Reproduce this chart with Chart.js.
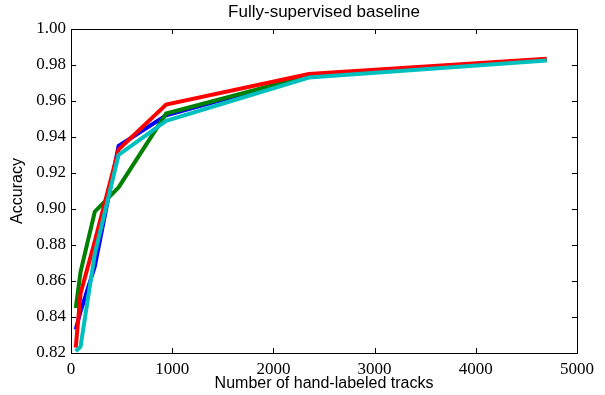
<!DOCTYPE html>
<html>
<head>
<meta charset="utf-8">
<script src="https://cdn.jsdelivr.net/npm/chart.js@4.4.1/dist/chart.umd.min.js"></script>
<style>
  body { margin: 0; background: #fff; }
  #wrap { width: 605px; height: 395px; }
</style>
</head>
<body>
<div id="wrap"><canvas id="myChart" width="605" height="395"></canvas></div>
<script>
var xValues = [47, 94, 235, 470, 940, 2350, 4700];
var blueValues = [0.833, 0.843, 0.868, 0.935, 0.952, 0.974, 0.983];
var greenValues = [0.845, 0.865, 0.8985, 0.912, 0.953, 0.974, 0.983];
var redValues = [0.823, 0.853, 0.882, 0.933, 0.958, 0.975, 0.9835];
var cyanValues = [0.821, 0.8235, 0.875, 0.930, 0.949, 0.973, 0.9825];
var xTicks = [0, 1000, 2000, 3000, 4000, 5000];
var yTicks = [0.82, 0.84, 0.86, 0.88, 0.90, 0.92, 0.94, 0.96, 0.98, 1.00];

function pts(ys) {
  return xValues.map(function (x, i) { return { x: x, y: ys[i] }; });
}

function line(label, color, ys, order) {
  return {
    label: label,
    data: pts(ys),
    borderColor: color,
    backgroundColor: color,
    borderWidth: 4,
    pointRadius: 0,
    tension: 0,
    fill: false,
    order: order,
  };
}

// matplotlib-like frame: box, inward ticks on all sides, title over plot
var frame = {
  id: "frame",
  afterDraw: function (chart) {
    var ctx = chart.ctx;
    var a = chart.chartArea;
    var xs = chart.scales.x;
    var ys = chart.scales.y;
    ctx.save();
    ctx.strokeStyle = "#000";
    ctx.lineWidth = 1;
    ctx.strokeRect(Math.round(a.left) + 0.5, Math.round(a.top) + 0.5,
      Math.round(a.right - a.left), Math.round(a.bottom - a.top));
    ctx.beginPath();
    xTicks.forEach(function (v) {
      var px = Math.round(xs.getPixelForValue(v)) + 0.5;
      ctx.moveTo(px, a.bottom); ctx.lineTo(px, a.bottom - 5);
      ctx.moveTo(px, a.top); ctx.lineTo(px, a.top + 5);
    });
    yTicks.forEach(function (v) {
      var py = Math.round(ys.getPixelForValue(v)) + 0.5;
      ctx.moveTo(a.left, py); ctx.lineTo(a.left + 5, py);
      ctx.moveTo(a.right, py); ctx.lineTo(a.right - 5, py);
    });
    ctx.stroke();
    ctx.fillStyle = "#000";
    ctx.font = "17px 'Liberation Sans', Arial, sans-serif";
    ctx.textAlign = "center";
    ctx.textBaseline = "bottom";
    ctx.fillText("Fully-supervised baseline", (a.left + a.right) / 2, a.top - 8);
    ctx.restore();
  },
};

new Chart("myChart", {
  type: "line",
  data: {
    datasets: [
      line("blue", "#0000ff", blueValues, 4),
      line("green", "#008000", greenValues, 3),
      line("red", "#ff0000", redValues, 2),
      line("cyan", "#00bfbf", cyanValues, 1),
    ],
  },
  options: {
    responsive: false,
    animation: false,
    layout: { padding: { top: 29, right: 28, left: 8, bottom: 0 } },
    plugins: {
      legend: { display: false },
      tooltip: { enabled: false },
    },
    scales: {
      x: {
        type: "linear",
        min: 0,
        max: 5000,
        grid: { display: false, drawTicks: false },
        border: { display: false },
        afterFit: function (s) { s.height = 42; },
        afterBuildTicks: function (s) {
          s.ticks = xTicks.map(function (v) { return { value: v }; });
        },
        ticks: {
          color: "#000",
          padding: 6,
          maxRotation: 0,
          font: { family: "'Liberation Serif', serif", size: 17 },
          callback: function (v) { return String(v); },
        },
        title: {
          display: true,
          text: "Number of hand-labeled tracks",
          color: "#000",
          padding: { top: 0, bottom: 2 },
          font: { family: "'Liberation Sans', Arial, sans-serif", size: 16 },
        },
      },
      y: {
        type: "linear",
        min: 0.82,
        max: 1.0,
        grid: { display: false, drawTicks: false },
        border: { display: false },
        afterFit: function (s) { s.width = 63; },
        afterBuildTicks: function (s) {
          s.ticks = yTicks.map(function (v) { return { value: v }; });
        },
        ticks: {
          color: "#000",
          padding: 5,
          font: { family: "'Liberation Serif', serif", size: 17 },
          callback: function (v) { return Number(v).toFixed(2); },
        },
        title: {
          display: true,
          text: "Accuracy",
          color: "#000",
          padding: { top: 0, bottom: 0 },
          font: { family: "'Liberation Sans', Arial, sans-serif", size: 16 },
        },
      },
    },
  },
  plugins: [frame],
});
</script>
</body>
</html>
